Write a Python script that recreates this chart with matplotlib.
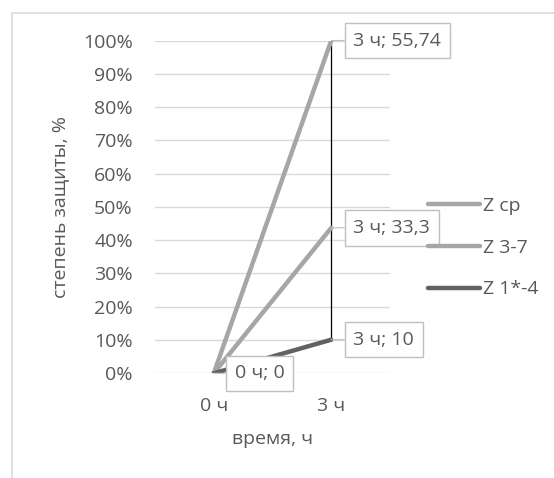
import matplotlib
matplotlib.use("Agg")
import matplotlib.pyplot as plt
from matplotlib.patches import Rectangle
import numpy as np

# ------------------------------------------------------------
# данные
# ------------------------------------------------------------
categories = ["0 ч", "3 ч"]
series_names = ["Z 1*-4", "Z 3-7", "Z ср"]
values = {
    "Z 1*-4": [0, 10],
    "Z 3-7": [0, 33.3],
    "Z ср": [0, 55.74],
}
series_colors = {"Z 1*-4": "#616161", "Z 3-7": "#a6a6a6", "Z ср": "#a6a6a6"}

TEXT_COLOR = "#595959"
GRID_COLOR = "#d9d9d9"
FS = 14

plt.rcParams["font.family"] = ["Open Sans", "DejaVu Sans"]

fig = plt.figure(figsize=(5.54, 4.78), dpi=100)
ax = fig.add_axes([155 / 554, 1 - 373.3 / 478, 235 / 554, 332.8 / 478])

# 100%-накопительный график
x = np.arange(len(categories))
vals = np.array([values[n] for n in series_names], dtype=float)
cum = np.cumsum(vals, axis=0)
total = cum[-1]
share = np.divide(cum, total, out=np.zeros_like(cum), where=total > 0)

lines = {}
for i, name in enumerate(series_names):
    (ln,) = ax.plot(x, share[i], color=series_colors[name], lw=3.2,
                    solid_capstyle="round", zorder=3 + (1 if i == 0 else 0))
    lines[name] = ln

# линии максимума-минимума
for j in range(len(x)):
    if total[j] > 0:
        ax.plot([x[j], x[j]], [share[:, j].min(), share[:, j].max()],
                color="black", lw=0.9, zorder=2)

# подписи данных
box = dict(boxstyle="square,pad=0.45", fc="white", ec="#bfbfbf", lw=1)
arrow = dict(arrowstyle="-", color="#bfbfbf", lw=0.8, shrinkA=0, shrinkB=0)
for i, name in enumerate(series_names):
    j = 1
    ax.annotate(f"{categories[j]}; {str(vals[i, j]).rstrip('0').rstrip('.').replace('.', ',')}",
                xy=(x[j], share[i, j]), xytext=(16, 0), textcoords="offset points",
                ha="left", va="center", fontsize=FS, color=TEXT_COLOR, bbox=box,
                arrowprops=arrow, zorder=6)
ax.annotate("0 ч; 0", xy=(x[0], 0), xytext=(15, 0), textcoords="offset points",
            ha="left", va="center", fontsize=FS, color=TEXT_COLOR, bbox=box,
            arrowprops=arrow, zorder=6)

ax.set_xlim(-0.5, 1.5)
ax.set_ylim(0, 1)
ax.set_yticks(np.arange(0, 1.01, 0.1))
ax.set_yticklabels([f"{int(round(v * 100))}%" for v in np.arange(0, 1.01, 0.1)])
ax.set_xticks(x)
ax.set_xticklabels(categories)
ax.tick_params(length=0, labelsize=FS, colors=TEXT_COLOR)
ax.tick_params(axis="y", pad=16)
ax.tick_params(axis="x", pad=17)
ax.grid(axis="y", color=GRID_COLOR, lw=1)
ax.set_axisbelow(True)
for s in ax.spines.values():
    s.set_visible(False)

ax.set_ylabel("степень защиты, %", fontsize=FS, color=TEXT_COLOR, labelpad=10)
ax.set_xlabel("время, ч", fontsize=FS, color=TEXT_COLOR, labelpad=11)

# легенда
handles = [lines[n] for n in series_names[::-1]]
fig.legend(handles, series_names[::-1], loc="upper left",
           bbox_to_anchor=(428 / 554, 1 - 197 / 478), frameon=False,
           fontsize=FS, labelcolor=TEXT_COLOR, handlelength=2.65,
           handletextpad=0.2, labelspacing=1.22, borderaxespad=0, borderpad=0)

# рамка области диаграммы
fig.add_artist(Rectangle((12 / 554, -0.1), 1.0, 1 - 13 / 478 + 0.1,
                         transform=fig.transFigure, fill=False,
                         ec=GRID_COLOR, lw=1.2))

fig.savefig("out.png", dpi=100, facecolor="white")
